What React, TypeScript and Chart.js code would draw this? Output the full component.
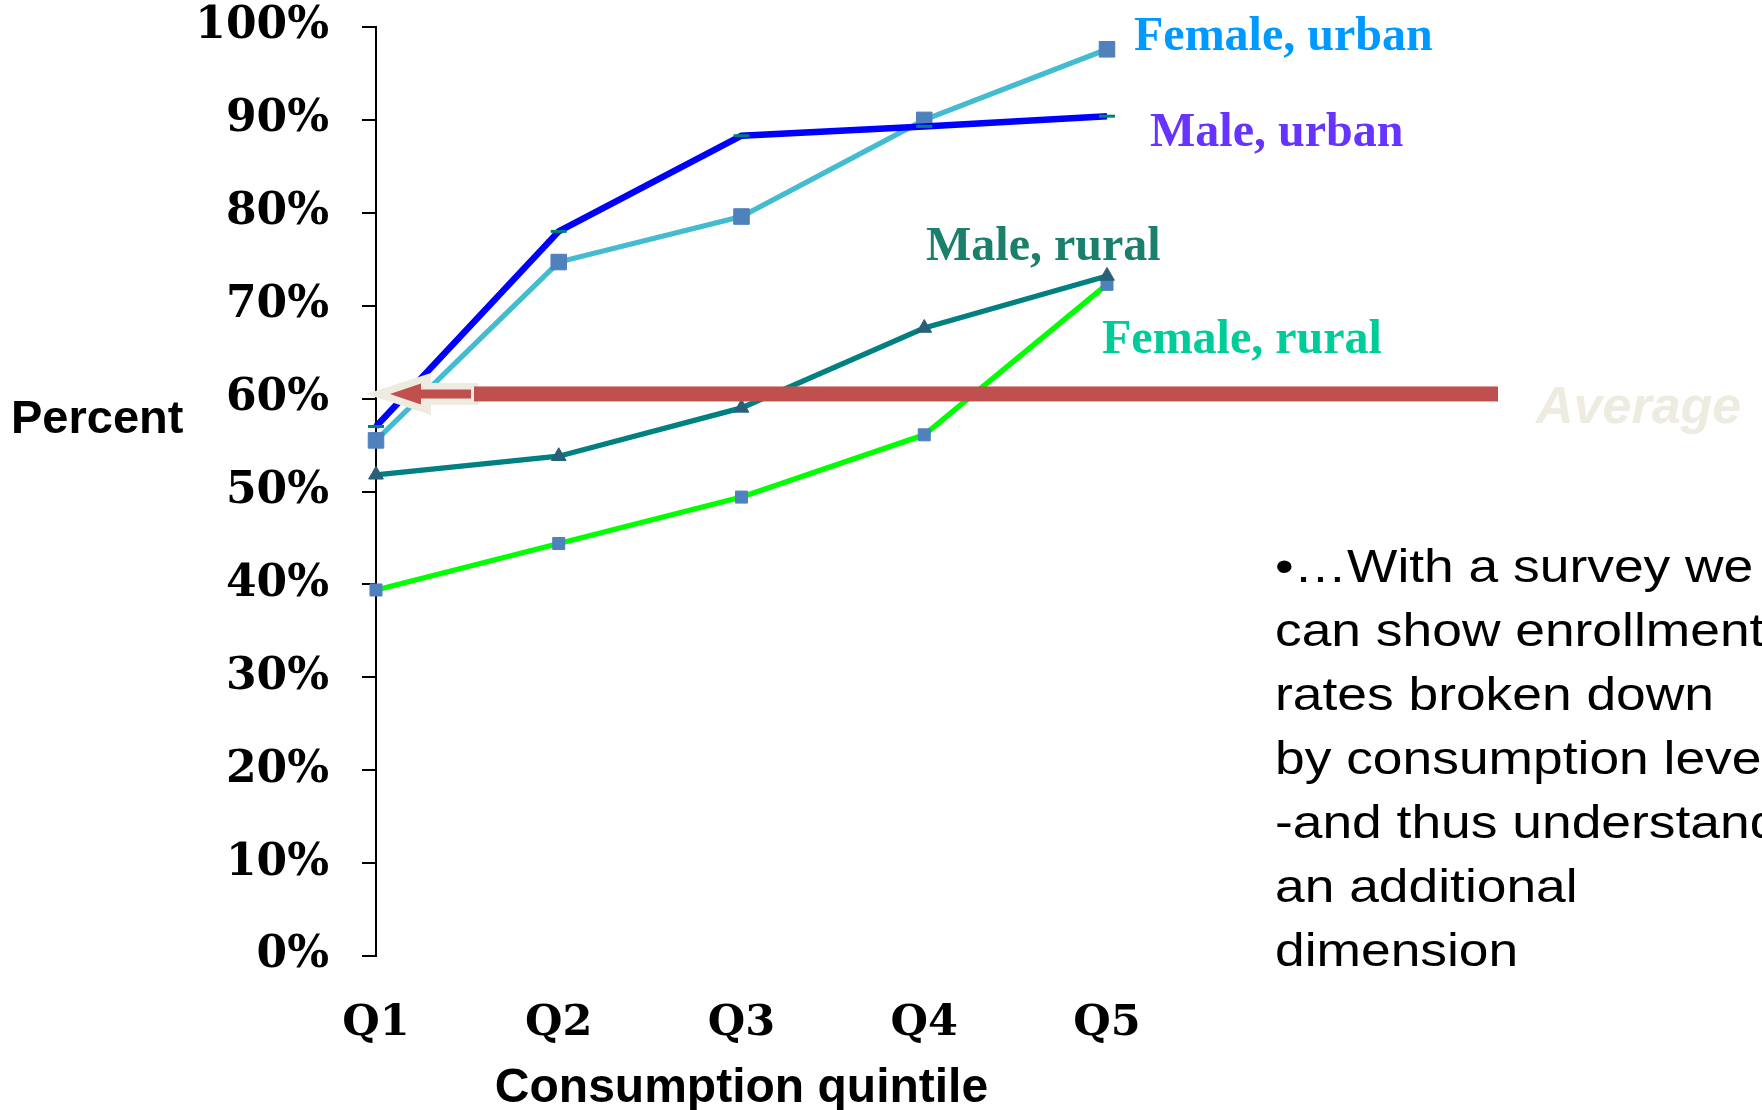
import React, { useEffect, useRef } from "react";
import { Chart, registerables } from "chart.js";

Chart.register(...registerables);

// ---- data ----
const categories = ["Q1", "Q2", "Q3", "Q4", "Q5"];
const maleUrban = [57.0, 78.0, 88.3, 89.3, 90.4];
const femaleUrban = [55.5, 74.7, 79.6, 90.0, 97.6];
const maleRural = [51.8, 53.8, 59.0, 67.6, 73.2];
const femaleRural = [39.4, 44.4, 49.4, 56.1, 72.3];
const averageValue = 60.5;
const seriesNames = ["Male, urban", "Female, urban", "Male, rural", "Female, rural"];
const bulletLines = [
  "\u2022\u2026With a survey we",
  "can show enrollment",
  "rates broken down",
  "by consumption level",
  "-and thus understand",
  "an additional",
  "dimension",
];

// ---- label styling / layout (not data) ----
const labelTexts = ["Female, urban", "Male, urban", "Male, rural", "Female, rural"];
const labelColors = ["#0099FF", "#6633FF", "#1B806B", "#00CC99"];
const labelPos: [number, number][] = [
  [1134, 50],
  [1150, 146],
  [926, 260],
  [1102, 353],
];

const annotations = {
  id: "annotations",
  afterDatasetsDraw(chart: any) {
    const { ctx, chartArea, scales } = chart;
    const yc = scales.y.getPixelForValue(averageValue);
    const L = chartArea.left;
    ctx.save();
    // beige outline arrow
    ctx.fillStyle = "#EEECE1";
    ctx.beginPath();
    ctx.moveTo(L - 10, yc);
    ctx.lineTo(L + 55, yc - 21);
    ctx.lineTo(L + 55, yc - 11);
    ctx.lineTo(L + 102, yc - 11);
    ctx.lineTo(L + 102, yc + 11);
    ctx.lineTo(L + 55, yc + 11);
    ctx.lineTo(L + 55, yc + 21);
    ctx.closePath();
    ctx.fill();
    // red inner arrow
    ctx.fillStyle = "#C0504D";
    ctx.beginPath();
    ctx.moveTo(L + 14, yc);
    ctx.lineTo(L + 45, yc - 10.5);
    ctx.lineTo(L + 45, yc - 4.5);
    ctx.lineTo(L + 95, yc - 4.5);
    ctx.lineTo(L + 95, yc + 4.5);
    ctx.lineTo(L + 45, yc + 4.5);
    ctx.lineTo(L + 45, yc + 10.5);
    ctx.closePath();
    ctx.fill();
    // main bar
    ctx.fillRect(L + 98, yc - 7.5, 1498 - (L + 98), 15);
    ctx.restore();
  },
  afterDraw(chart: any) {
    const { ctx, scales } = chart;
    ctx.save();
    ctx.textAlign = "left";
    ctx.textBaseline = "alphabetic";
    ctx.font = 'bold 48px "Liberation Serif", "Times New Roman", serif';
    labelTexts.forEach((t, i) => {
      ctx.fillStyle = labelColors[i];
      ctx.fillText(t, labelPos[i][0], labelPos[i][1]);
    });
    ctx.fillStyle = "#000";
    ctx.font = 'bold 47px "Liberation Sans", Arial, sans-serif';
    ctx.fillText("Percent", 11, 433);
    ctx.fillStyle = "#EEECE1";
    ctx.font = 'italic bold 52px "Liberation Sans", Arial, sans-serif';
    const yc = scales.y.getPixelForValue(averageValue);
    ctx.fillText("Average", 1536, yc + 29);
    ctx.restore();
  },
};

export default function App() {
  const ref = useRef<HTMLCanvasElement | null>(null);

  useEffect(() => {
    if (!ref.current) return;
    const chart = new Chart(ref.current, {
      type: "line",
      data: {
        labels: categories,
        datasets: [
          {
            label: seriesNames[0],
            data: maleUrban,
            borderColor: "#0000FF",
            borderWidth: 6.5,
            pointStyle: "line",
            pointRadius: 8,
            pointBorderColor: "#00807A",
            pointBackgroundColor: "#00807A",
            pointBorderWidth: 3,
            tension: 0,
            clip: false,
          },
          {
            label: seriesNames[1],
            data: femaleUrban,
            borderColor: "#43BBD0",
            borderWidth: 5.3,
            pointStyle: "rect",
            pointRadius: 11,
            pointBorderColor: "#4F81BD",
            pointBackgroundColor: "#4F81BD",
            pointBorderWidth: 1,
            tension: 0,
            clip: false,
          },
          {
            label: seriesNames[2],
            data: maleRural,
            borderColor: "#008080",
            borderWidth: 5.3,
            pointStyle: "triangle",
            pointRadius: 8.5,
            pointBorderColor: "#2B5F78",
            pointBackgroundColor: "#2B5F78",
            pointBorderWidth: 1,
            tension: 0,
            clip: false,
          },
          {
            label: seriesNames[3],
            data: femaleRural,
            borderColor: "#00FF00",
            borderWidth: 5.3,
            pointStyle: "rect",
            pointRadius: 8.5,
            pointBorderColor: "#4F81BD",
            pointBackgroundColor: "#4F81BD",
            pointBorderWidth: 1,
            tension: 0,
            clip: false,
          },
        ],
      },
      options: {
        responsive: false,
        maintainAspectRatio: false,
        animation: false,
        devicePixelRatio: 1,
        layout: { padding: { left: 0, right: 655, top: 27, bottom: 0 } },
        plugins: {
          legend: { display: false },
          tooltip: { enabled: false },
        },
        events: [],
        scales: {
          x: {
            type: "category",
            offset: false,
            grid: { display: false, drawTicks: false },
            border: { display: false },
            ticks: {
              color: "#000",
              font: { family: '"DejaVu Serif", serif', weight: "bold", size: 43 },
              padding: 42,
              autoSkip: false,
              maxRotation: 0,
              minRotation: 0,
            },
            title: {
              display: true,
              text: "Consumption quintile",
              color: "#000",
              font: { family: '"Liberation Sans", Arial, sans-serif', weight: "bold", size: 48, lineHeight: 0.9 },
              padding: 0,
            },
            afterFit: (s: any) => {
              s.height = 154;
              s.paddingLeft = 0;
              s.paddingRight = 0;
            },
          },
          y: {
            min: 0,
            max: 100,
            grid: {
              drawOnChartArea: false,
              drawTicks: true,
              tickLength: 14,
              color: "#000",
              lineWidth: 2,
            },
            border: { display: true, color: "#000", width: 2 },
            ticks: {
              stepSize: 10,
              color: "#000",
              padding: 33,
              font: { family: '"DejaVu Serif", serif', weight: "bold", size: 44 },
              callback: (v: any) => v + "%",
            },
            afterFit: (s: any) => {
              s.width = 376;
              s.paddingTop = 0;
              s.paddingBottom = 0;
            },
          },
        },
      },
      plugins: [annotations],
    });
    return () => chart.destroy();
  }, []);

  return (
    <div
      style={{
        position: "fixed",
        left: 0,
        top: 0,
        width: 1762,
        height: 1110,
        overflow: "hidden",
        background: "#fff",
      }}
    >
      <canvas ref={ref} width={1762} height={1110} style={{ position: "absolute", left: 0, top: 0, width: 1762, height: 1110 }} />
      <div
        style={{
          position: "absolute",
          left: 1275,
          top: 534,
          fontFamily: '"Liberation Sans", Arial, sans-serif',
          fontSize: 46,
          lineHeight: "64px",
          color: "#000",
          whiteSpace: "pre",
          transform: "scaleX(1.16)",
          transformOrigin: "left top",
        }}
      >
        {bulletLines.map((l, i) => (
          <div key={i}>{l}</div>
        ))}
      </div>
    </div>
  );
}
